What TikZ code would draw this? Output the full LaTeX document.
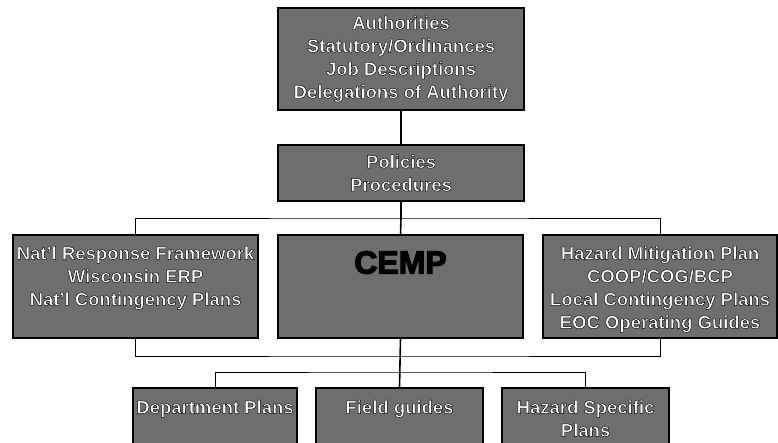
\documentclass[tikz,border=0pt]{standalone}
\usepackage{fontspec}
\setmainfont{Liberation Sans}
\newcommand\olon{\special{pdf:bcolor [1] [0]}\special{pdf:literal direct 2 Tr 0.45 w}}
\newcommand\oloff{\special{pdf:literal direct 0 Tr}\special{pdf:ecolor}}
\newcommand\bkon{\special{pdf:bcolor [0] [0]}\special{pdf:literal direct 2 Tr 1.2 w}}
\begin{document}
\begin{tikzpicture}[x=1pt,y=-1pt,
  box/.style={draw=black,line width=1.4pt,fill=black!57,inner sep=0pt,outer sep=0pt,rectangle},
  txt/.style={text=white,align=center,inner sep=0pt,font=\bfseries\fontsize{18.5}{23}\selectfont},
  big/.style={align=center,inner sep=0pt,text=black,font=\bfseries\fontsize{32}{36}\selectfont},
  conn/.style={draw=black,line width=1.6pt},
  bus/.style={draw=black,line width=1pt}]
\useasboundingbox (0,0) rectangle (778,442);
\clip (0,0) rectangle (778,442);
% boxes
\node[box,minimum width=246,minimum height=102] (top) at (401,59) {};
\node[txt] (toptxt) at (top.center) {\olon Authorities\\Statutory/Ordinances\\Job Descriptions\\Delegations of Authority\oloff};
\node[box,minimum width=246,minimum height=56] (pol) at (401,173) {};
\node[txt] (poltxt) at (pol.center) {\olon Policies\\Procedures\oloff};
\node[box,minimum width=245,minimum height=103] (left) at (135.5,286.5) {};
\node[txt,anchor=north] (lefttxt) at (135.5,246) {\olon Nat'l Response Framework\\Wisconsin ERP\\Nat'l Contingency Plans\oloff};
\node[box,minimum width=245,minimum height=103] (cemp) at (400.5,286.5) {};
\node[big,anchor=north] (cemptxt) at (400.5,251) {\bkon CEMP\oloff};
\node[box,minimum width=234,minimum height=103] (right) at (660,286.5) {};
\node[txt,anchor=north] (righttxt) at (660,246) {\olon Hazard Mitigation Plan\\COOP/COG/BCP\\Local Contingency Plans\\EOC Operating Guides\oloff};
\node[box,minimum width=164,minimum height=64] (dept) at (215,420) {};
\node[txt,anchor=north] (depttxt) at (215,400) {\olon Department Plans\oloff};
\node[box,minimum width=167,minimum height=64] (field) at (399.5,420) {};
\node[txt,anchor=north] (fieldtxt) at (399.5,400) {\olon Field guides\oloff};
\node[box,minimum width=167,minimum height=64] (haz) at (585.5,420) {};
\node[txt,anchor=north] (haztxt) at (585.5,400) {\olon Hazard Specific\\Plans\oloff};
% connectors
\draw[conn] (top.south) -- (pol.north);
\draw[conn] (pol.south) -- ++(0,17) coordinate (b1);
\draw[bus] (left.north) |- (b1) -| (right.north);
\draw[conn] (b1) -- (cemp.north);
\draw[conn] (cemp.south) -- (field.north);
\coordinate (b2) at ([yshift=-18pt]cemp.south);
\draw[bus] (left.south) |- (b2) -| (right.south);
\coordinate (b3) at ([yshift=-34pt]cemp.south);
\draw[bus] (dept.north) |- (b3) -| (haz.north);
\end{tikzpicture}
\end{document}
